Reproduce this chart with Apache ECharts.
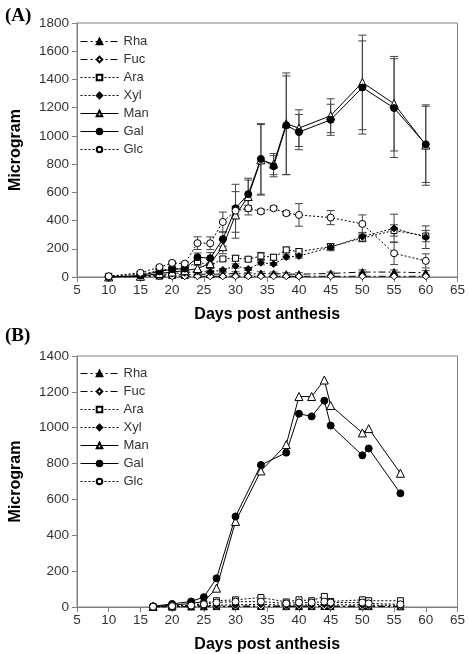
<!DOCTYPE html>
<html><head><meta charset="utf-8">
<script src="https://cdn.jsdelivr.net/npm/echarts@6/dist/echarts.min.js"></script>
<style>html,body{margin:0;padding:0;background:#fff}#c{width:468px;height:654px}</style>
</head><body><div id="c"></div>
<script>
// ---------- data ----------
const xTicks = [5,10,15,20,25,30,35,40,45,50,55,60,65];
const yTicksA = [0,200,400,600,800,1000,1200,1400,1600,1800];
const yTicksB = [0,200,400,600,800,1000,1200,1400];
const names = ['Rha','Fuc','Ara','Xyl','Man','Gal','Glc'];

// Panel A
const daysA = [10,15,18,20,22,24,26,28,30,32,34,36,38,40,45,50,55,60];
const rhaA = [0,5,10,15,15,20,20,20,25,20,25,25,20,20,25,35,35,30];
const fucA = [0,2,3,5,5,5,5,5,5,5,5,5,5,5,5,5,5,5];
const araA = [5,20,45,60,55,110,80,128,133,126,149,140,192,180,215,275,330,290];
const xylA = [0,5,15,25,30,40,35,50,78,57,101,92,142,149,211,286,345,282];
const manA = [0,5,25,35,45,60,95,215,440,570,830,800,1086,1055,1143,1379,1228,935];
const galA = [0,10,40,55,60,140,133,268,487,587,837,785,1075,1027,1114,1343,1197,940];
const glcA = [5,30,70,100,95,240,239,390,470,487,465,487,452,440,421,376,168,114];
// error (half-width) panel A
const errRhaA = [0,3,5,8,8,10,10,10,12,10,12,10,10,10,10,15,15,15];
const errFucA = [0,1,2,3,3,3,3,3,3,3,3,3,3,3,3,3,3,3];
const errAraA = [2,5,8,10,10,20,15,15,20,15,25,20,20,20,20,25,40,40];
const errXylA = [0,2,5,8,8,10,10,10,15,10,15,10,15,15,25,30,100,80];
const errManA = [0,5,10,10,15,20,30,50,165,130,250,75,360,130,120,335,335,285];
const errGalA = [0,5,10,10,15,30,40,50,170,100,250,75,350,125,110,330,350,270];
const errGlcA = [2,8,10,12,12,45,45,70,30,20,15,15,15,80,50,64,80,50];

// Panel B
const daysB = [17,20,23,25,27,30,34,38,40,42,44,45,50,51,56];
const rhaB = [1,2,3,4,5,5,6,5,5,5,6,5,5,5,4];
const fucB = [0,1,2,2,3,3,3,2,3,3,3,2,2,2,2];
const araB = [2,5,10,20,35,40,53,28,40,35,59,31,40,35,35];
const xylB = [1,3,5,8,10,12,15,10,12,12,15,12,12,10,10];
const manB = [3,10,20,30,105,477,759,906,1174,1174,1266,1124,971,995,746];
const galB = [4,17,31,55,160,505,792,861,1078,1063,1151,1012,846,884,634];
const glcB = [2,5,8,15,25,30,30,20,25,25,30,25,25,20,15];

// ---------- styles ----------
const styles = {
  Rha:{symbol:'triangle', fill:'#000', dash:[7,3,2,3], size:7},
  Fuc:{symbol:'diamond', fill:'#fff', dash:[7,3,2,3], size:7},
  Ara:{symbol:'rect', fill:'#fff', dash:[2,2], size:6},
  Xyl:{symbol:'diamond', fill:'#000', dash:[2,2], size:7},
  Man:{symbol:'triangle', fill:'#fff', dash:'solid', size:8},
  Gal:{symbol:'circle', fill:'#000', dash:'solid', size:7},
  Glc:{symbol:'circle', fill:'#fff', dash:[2,2], size:7}
};

function lineSeries(name, xs, ys, g){
  const s = styles[name];
  return {
    type:'line', name, xAxisIndex:g, yAxisIndex:g,
    data: xs.map((x,i)=>[x, ys[i]]),
    symbol:s.symbol, symbolSize:s.size, showAllSymbol:true,
    lineStyle:{color:'#000', width:1, type:s.dash},
    itemStyle:{color:s.fill, borderColor:'#000', borderWidth:1},
    z:3, animation:false
  };
}
function errSeries(xs, ys, es, g){
  return {
    type:'custom', xAxisIndex:g, yAxisIndex:g, silent:true, z:2, animation:false,
    clip:true,
    encode:{x:0, y:[1,2]},
    data: xs.map((x,i)=>[x, Math.max(0, ys[i]-es[i]), ys[i]+es[i]]),
    renderItem(params, api){
      const lo = api.coord([api.value(0), api.value(1)]);
      const hi = api.coord([api.value(0), api.value(2)]);
      const w = 4, st = {stroke:'#444', lineWidth:1};
      return {type:'group', children:[
        {type:'line', shape:{x1:lo[0],y1:lo[1],x2:hi[0],y2:hi[1]}, style:st},
        {type:'line', shape:{x1:hi[0]-w,y1:hi[1],x2:hi[0]+w,y2:hi[1]}, style:st},
        {type:'line', shape:{x1:lo[0]-w,y1:lo[1],x2:lo[0]+w,y2:lo[1]}, style:st}
      ]};
    }
  };
}

const chart = echarts.init(document.getElementById('c'), null, {renderer:'canvas'});
const axisCol = '#808080';
const plain = v => String(v);
function xAx(g){
  return {type:'value', gridIndex:g, min:xTicks[0], max:xTicks[xTicks.length-1], interval:5,
    name:'Days post anthesis', nameLocation:'middle', nameGap:30,
    nameTextStyle:{fontFamily:'Liberation Sans', fontWeight:'bold', fontSize:16, color:'#000'},
    axisLine:{onZero:false, lineStyle:{color:axisCol}}, axisTick:{length:5, lineStyle:{color:axisCol}},
    axisLabel:{fontFamily:'Liberation Sans', fontSize:13.5, color:'#333', margin:6, formatter:plain},
    splitLine:{show:false}};
}
function yAx(g, ticks){
  return {type:'value', gridIndex:g, min:0, max:ticks[ticks.length-1], interval:200,
    name:'Microgram', nameLocation:'middle', nameGap:53,
    nameTextStyle:{fontFamily:'Liberation Sans', fontWeight:'bold', fontSize:16, color:'#000'},
    axisLine:{show:true, lineStyle:{color:axisCol}}, axisTick:{show:true, length:5, lineStyle:{color:axisCol}},
    axisLabel:{fontFamily:'Liberation Sans', fontSize:13.5, color:'#333', margin:8, formatter:plain},
    splitLine:{show:false}};
}
function legend(top){
  return {left:75, top, orient:'vertical', data:names, itemWidth:38, itemHeight:7, itemGap:5,
    lineStyle:{width:1},
    textStyle:{fontFamily:'Liberation Sans', fontSize:13, color:'#333'}, selectedMode:false};
}

const series = [];
const dA = {Rha:[rhaA,errRhaA], Fuc:[fucA,errFucA], Ara:[araA,errAraA], Xyl:[xylA,errXylA], Man:[manA,errManA], Gal:[galA,errGalA], Glc:[glcA,errGlcA]};
names.forEach(n=>{ series.push(errSeries(daysA, dA[n][0], dA[n][1], 0)); });
names.forEach(n=>{ series.push(lineSeries(n, daysA, dA[n][0], 0)); });
const dB = {Rha:rhaB, Fuc:fucB, Ara:araB, Xyl:xylB, Man:manB, Gal:galB, Glc:glcB};
names.forEach(n=>{ series.push(lineSeries(n, daysB, dB[n], 1)); });

chart.setOption({
  animation:false,
  backgroundColor:'#fff',
  title:[
    {text:'(A)', left:0, top:2, textStyle:{fontFamily:'Liberation Serif', fontWeight:'bold', fontSize:19, color:'#000'}},
    {text:'(B)', left:0, top:322, textStyle:{fontFamily:'Liberation Serif', fontWeight:'bold', fontSize:19, color:'#000'}}
  ],
  grid:[
    {left:67, top:23, width:391, height:254, show:true, borderColor:axisCol, borderWidth:1},
    {left:67, top:356, width:391, height:253, show:true, borderColor:axisCol, borderWidth:1}
  ],
  xAxis:[xAx(0), xAx(1)],
  yAxis:[yAx(0, yTicksA), yAx(1, yTicksB)],
  legend:[legend(30), legend(362)],
  series
});
</script></body></html>
